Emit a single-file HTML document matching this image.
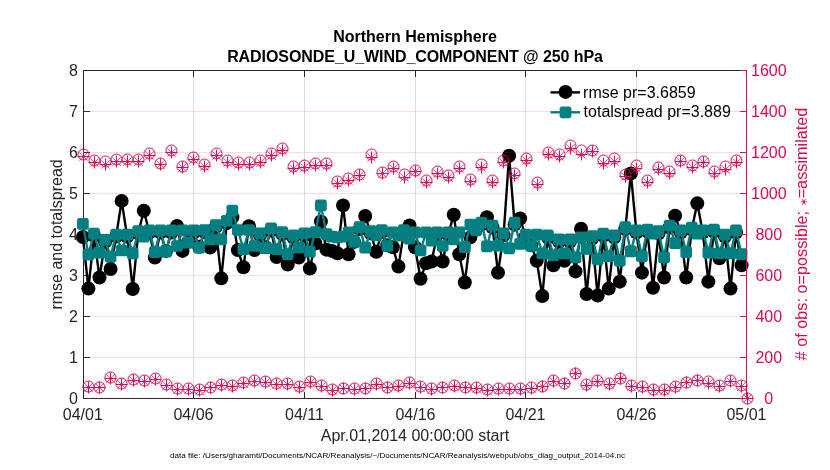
<!DOCTYPE html>
<html><head><meta charset="utf-8"><title>Northern Hemisphere RADIOSONDE_U_WIND_COMPONENT @ 250 hPa</title>
<style>html,body{margin:0;padding:0;background:#fff;}body{width:830px;height:470px;overflow:hidden;}svg{display:block;will-change:transform;}</style>
</head><body>
<svg width="830" height="470" viewBox="0 0 830 470"><rect width="830" height="470" fill="#fff"/><path d="M83.5 70V399M83 70.5H747M83 398.5H747" stroke="#262626" stroke-width="1" fill="none"/><g stroke="#262626" stroke-width="1"><path d="M84 357.5h6"/><path d="M84 316.5h6"/><path d="M84 275.5h6"/><path d="M84 234.5h6"/><path d="M84 193.5h6"/><path d="M84 152.5h6"/><path d="M84 111.5h6"/><path d="M193.5 398V392M193.5 71V77"/><path d="M304.5 398V392M304.5 71V77"/><path d="M415.5 398V392M415.5 71V77"/><path d="M525.5 398V392M525.5 71V77"/><path d="M636.5 398V392M636.5 71V77"/></g><polyline points="82.9,236.96 88.44,288.62 93.97,235.73 99.51,277.55 105.04,241.88 110.58,268.94 116.11,236.55 121.65,200.88 127.18,236.55 132.72,289.03 138.25,233.27 143.79,210.72 149.32,232.45 154.86,257.46 160.39,232.45 165.93,250.9 171.46,232.45 177,225.89 182.53,250.9 188.06,241.88 193.6,232.45 199.13,246.8 204.67,232.04 210.21,247.62 215.74,227.12 221.28,278.37 226.81,223.02 232.34,217.28 237.88,250.08 243.42,267.3 248.95,226.3 254.49,250.08 260.02,235.32 265.56,247.21 271.09,230.4 276.62,257.05 282.16,234.09 287.7,264.43 293.23,237.37 298.76,257.46 304.3,235.32 309.84,268.53 315.37,243.52 320.9,221.38 326.44,249.67 331.98,250.9 337.51,253.36 343.04,205.39 348.58,254.18 354.12,241.88 359.65,229.17 365.19,216.05 370.72,233.27 376.25,251.72 381.79,232.04 387.33,245.16 392.86,247.21 398.39,266.48 403.93,232.04 409.47,225.48 415,247.21 420.53,278.78 426.07,263.2 431.61,261.56 437.14,234.5 442.68,261.56 448.21,234.5 453.75,214.82 459.28,254.18 464.82,282.47 470.35,237.37 475.88,229.58 481.42,224.66 486.96,217.28 492.49,227.53 498.02,272.63 503.56,235.32 509.1,155.78 514.63,224.66 520.16,218.51 525.7,236.55 531.24,245.16 536.77,260.74 542.31,296 547.84,237.37 553.38,265.25 558.91,241.47 564.45,260.74 569.98,241.47 575.51,271.4 581.05,228.76 586.59,293.95 592.12,238.19 597.65,295.59 603.19,235.73 608.73,288.62 614.26,237.37 619.79,281.65 625.33,229.17 630.87,173.41 636.4,232.45 641.93,272.63 647.47,231.63 653,287.8 658.54,233.27 664.08,277.55 669.61,227.53 675.14,215.64 680.68,232.45 686.22,277.55 691.75,229.58 697.28,203.34 702.82,232.45 708.36,281.65 713.89,231.63 719.42,258.28 724.96,236.55 730.5,288.62 736.03,232.45 741.56,265.25" fill="none" stroke="#000" stroke-width="2.4" stroke-linejoin="round"/><g fill="#000"><circle cx="82.9" cy="236.96" r="7"/><circle cx="88.44" cy="288.62" r="7"/><circle cx="93.97" cy="235.73" r="7"/><circle cx="99.51" cy="277.55" r="7"/><circle cx="105.04" cy="241.88" r="7"/><circle cx="110.58" cy="268.94" r="7"/><circle cx="116.11" cy="236.55" r="7"/><circle cx="121.65" cy="200.88" r="7"/><circle cx="127.18" cy="236.55" r="7"/><circle cx="132.72" cy="289.03" r="7"/><circle cx="138.25" cy="233.27" r="7"/><circle cx="143.79" cy="210.72" r="7"/><circle cx="149.32" cy="232.45" r="7"/><circle cx="154.86" cy="257.46" r="7"/><circle cx="160.39" cy="232.45" r="7"/><circle cx="165.93" cy="250.9" r="7"/><circle cx="171.46" cy="232.45" r="7"/><circle cx="177" cy="225.89" r="7"/><circle cx="182.53" cy="250.9" r="7"/><circle cx="188.06" cy="241.88" r="7"/><circle cx="193.6" cy="232.45" r="7"/><circle cx="199.13" cy="246.8" r="7"/><circle cx="204.67" cy="232.04" r="7"/><circle cx="210.21" cy="247.62" r="7"/><circle cx="215.74" cy="227.12" r="7"/><circle cx="221.28" cy="278.37" r="7"/><circle cx="226.81" cy="223.02" r="7"/><circle cx="232.34" cy="217.28" r="7"/><circle cx="237.88" cy="250.08" r="7"/><circle cx="243.42" cy="267.3" r="7"/><circle cx="248.95" cy="226.3" r="7"/><circle cx="254.49" cy="250.08" r="7"/><circle cx="260.02" cy="235.32" r="7"/><circle cx="265.56" cy="247.21" r="7"/><circle cx="271.09" cy="230.4" r="7"/><circle cx="276.62" cy="257.05" r="7"/><circle cx="282.16" cy="234.09" r="7"/><circle cx="287.7" cy="264.43" r="7"/><circle cx="293.23" cy="237.37" r="7"/><circle cx="298.76" cy="257.46" r="7"/><circle cx="304.3" cy="235.32" r="7"/><circle cx="309.84" cy="268.53" r="7"/><circle cx="315.37" cy="243.52" r="7"/><circle cx="320.9" cy="221.38" r="7"/><circle cx="326.44" cy="249.67" r="7"/><circle cx="331.98" cy="250.9" r="7"/><circle cx="337.51" cy="253.36" r="7"/><circle cx="343.04" cy="205.39" r="7"/><circle cx="348.58" cy="254.18" r="7"/><circle cx="354.12" cy="241.88" r="7"/><circle cx="359.65" cy="229.17" r="7"/><circle cx="365.19" cy="216.05" r="7"/><circle cx="370.72" cy="233.27" r="7"/><circle cx="376.25" cy="251.72" r="7"/><circle cx="381.79" cy="232.04" r="7"/><circle cx="387.33" cy="245.16" r="7"/><circle cx="392.86" cy="247.21" r="7"/><circle cx="398.39" cy="266.48" r="7"/><circle cx="403.93" cy="232.04" r="7"/><circle cx="409.47" cy="225.48" r="7"/><circle cx="415" cy="247.21" r="7"/><circle cx="420.53" cy="278.78" r="7"/><circle cx="426.07" cy="263.2" r="7"/><circle cx="431.61" cy="261.56" r="7"/><circle cx="437.14" cy="234.5" r="7"/><circle cx="442.68" cy="261.56" r="7"/><circle cx="448.21" cy="234.5" r="7"/><circle cx="453.75" cy="214.82" r="7"/><circle cx="459.28" cy="254.18" r="7"/><circle cx="464.82" cy="282.47" r="7"/><circle cx="470.35" cy="237.37" r="7"/><circle cx="475.88" cy="229.58" r="7"/><circle cx="481.42" cy="224.66" r="7"/><circle cx="486.96" cy="217.28" r="7"/><circle cx="492.49" cy="227.53" r="7"/><circle cx="498.02" cy="272.63" r="7"/><circle cx="503.56" cy="235.32" r="7"/><circle cx="509.1" cy="155.78" r="7"/><circle cx="514.63" cy="224.66" r="7"/><circle cx="520.16" cy="218.51" r="7"/><circle cx="525.7" cy="236.55" r="7"/><circle cx="531.24" cy="245.16" r="7"/><circle cx="536.77" cy="260.74" r="7"/><circle cx="542.31" cy="296" r="7"/><circle cx="547.84" cy="237.37" r="7"/><circle cx="553.38" cy="265.25" r="7"/><circle cx="558.91" cy="241.47" r="7"/><circle cx="564.45" cy="260.74" r="7"/><circle cx="569.98" cy="241.47" r="7"/><circle cx="575.51" cy="271.4" r="7"/><circle cx="581.05" cy="228.76" r="7"/><circle cx="586.59" cy="293.95" r="7"/><circle cx="592.12" cy="238.19" r="7"/><circle cx="597.65" cy="295.59" r="7"/><circle cx="603.19" cy="235.73" r="7"/><circle cx="608.73" cy="288.62" r="7"/><circle cx="614.26" cy="237.37" r="7"/><circle cx="619.79" cy="281.65" r="7"/><circle cx="625.33" cy="229.17" r="7"/><circle cx="630.87" cy="173.41" r="7"/><circle cx="636.4" cy="232.45" r="7"/><circle cx="641.93" cy="272.63" r="7"/><circle cx="647.47" cy="231.63" r="7"/><circle cx="653" cy="287.8" r="7"/><circle cx="658.54" cy="233.27" r="7"/><circle cx="664.08" cy="277.55" r="7"/><circle cx="669.61" cy="227.53" r="7"/><circle cx="675.14" cy="215.64" r="7"/><circle cx="680.68" cy="232.45" r="7"/><circle cx="686.22" cy="277.55" r="7"/><circle cx="691.75" cy="229.58" r="7"/><circle cx="697.28" cy="203.34" r="7"/><circle cx="702.82" cy="232.45" r="7"/><circle cx="708.36" cy="281.65" r="7"/><circle cx="713.89" cy="231.63" r="7"/><circle cx="719.42" cy="258.28" r="7"/><circle cx="724.96" cy="236.55" r="7"/><circle cx="730.5" cy="288.62" r="7"/><circle cx="736.03" cy="232.45" r="7"/><circle cx="741.56" cy="265.25" r="7"/></g><polyline points="82.9,223.84 88.44,254.59 93.97,233.68 99.51,252.54 105.04,239.83 110.58,256.64 116.11,234.5 121.65,250.49 127.18,234.5 132.72,253.36 138.25,231.22 143.79,236.55 149.32,230.4 154.86,252.13 160.39,230.4 165.93,251.72 171.46,230.4 177,245.98 182.53,230.4 188.06,242.7 193.6,230.4 199.13,247.62 204.67,229.99 210.21,239.42 215.74,225.07 221.28,239.42 226.81,220.97 232.34,210.72 237.88,229.99 243.42,249.26 248.95,229.99 254.49,245.98 260.02,233.27 265.56,248.03 271.09,228.35 276.62,249.26 282.16,232.04 287.7,254.18 293.23,235.32 298.76,247.62 304.3,233.27 309.84,251.72 315.37,232.04 320.9,205.39 326.44,234.09 331.98,236.55 337.51,237.37 343.04,236.55 348.58,232.45 354.12,241.88 359.65,227.12 365.19,247.62 370.72,231.22 376.25,235.32 381.79,229.99 387.33,245.98 392.86,232.45 398.39,235.73 403.93,229.99 409.47,238.6 415,232.45 420.53,250.49 426.07,232.45 431.61,240.65 437.14,232.45 442.68,245.98 448.21,232.45 453.75,239.42 459.28,232.45 464.82,247.21 470.35,224.66 475.88,230.4 481.42,222.61 486.96,246.39 492.49,225.48 498.02,245.57 503.56,233.27 509.1,248.44 514.63,222.61 520.16,243.93 525.7,234.5 531.24,245.98 536.77,234.5 542.31,253.36 547.84,235.32 553.38,255.41 558.91,239.42 564.45,253.36 569.98,239.42 575.51,257.46 581.05,237.37 586.59,248.85 592.12,236.14 597.65,259.51 603.19,233.68 608.73,256.23 614.26,235.32 619.79,260.74 625.33,227.12 630.87,251.31 636.4,230.4 641.93,256.23 647.47,229.58 653,233.68 658.54,231.22 664.08,257.46 669.61,225.48 675.14,243.11 680.68,230.4 686.22,252.13 691.75,227.53 697.28,233.68 702.82,230.4 708.36,252.54 713.89,229.58 719.42,253.36 724.96,234.5 730.5,253.36 736.03,230.4 741.56,254.18" fill="none" stroke="#008080" stroke-width="2.4" stroke-linejoin="round"/><g fill="#008080"><path d="M78.55 217.99H87.25L88.75 219.49V228.19L87.25 229.69H78.55L77.05 228.19V219.49ZM84.09 248.74H92.78L94.28 250.24V258.94L92.78 260.44H84.09L82.59 258.94V250.24ZM89.62 227.83H98.32L99.82 229.33V238.03L98.32 239.53H89.62L88.12 238.03V229.33ZM95.16 246.69H103.86L105.36 248.19V256.89L103.86 258.39H95.16L93.66 256.89V248.19ZM100.69 233.98H109.39L110.89 235.48V244.18L109.39 245.68H100.69L99.19 244.18V235.48ZM106.23 250.79H114.92L116.42 252.29V260.99L114.92 262.49H106.23L104.73 260.99V252.29ZM111.76 228.65H120.46L121.96 230.15V238.85L120.46 240.35H111.76L110.26 238.85V230.15ZM117.3 244.64H126L127.5 246.14V254.84L126 256.34H117.3L115.8 254.84V246.14ZM122.83 228.65H131.53L133.03 230.15V238.85L131.53 240.35H122.83L121.33 238.85V230.15ZM128.37 247.51H137.06L138.56 249.01V257.71L137.06 259.21H128.37L126.87 257.71V249.01ZM133.9 225.37H142.6L144.1 226.87V235.57L142.6 237.07H133.9L132.4 235.57V226.87ZM139.44 230.7H148.14L149.64 232.2V240.9L148.14 242.4H139.44L137.94 240.9V232.2ZM144.97 224.55H153.67L155.17 226.05V234.75L153.67 236.25H144.97L143.47 234.75V226.05ZM150.51 246.28H159.21L160.71 247.78V256.48L159.21 257.98H150.51L149.01 256.48V247.78ZM156.04 224.55H164.74L166.24 226.05V234.75L164.74 236.25H156.04L154.54 234.75V226.05ZM161.58 245.87H170.28L171.78 247.37V256.07L170.28 257.57H161.58L160.08 256.07V247.37ZM167.11 224.55H175.81L177.31 226.05V234.75L175.81 236.25H167.11L165.61 234.75V226.05ZM172.65 240.13H181.34L182.84 241.63V250.33L181.34 251.83H172.65L171.15 250.33V241.63ZM178.18 224.55H186.88L188.38 226.05V234.75L186.88 236.25H178.18L176.68 234.75V226.05ZM183.72 236.85H192.41L193.91 238.35V247.05L192.41 248.55H183.72L182.22 247.05V238.35ZM189.25 224.55H197.95L199.45 226.05V234.75L197.95 236.25H189.25L187.75 234.75V226.05ZM194.78 241.77H203.48L204.98 243.27V251.97L203.48 253.47H194.78L193.28 251.97V243.27ZM200.32 224.14H209.02L210.52 225.64V234.34L209.02 235.84H200.32L198.82 234.34V225.64ZM205.86 233.57H214.56L216.06 235.07V243.77L214.56 245.27H205.86L204.36 243.77V235.07ZM211.39 219.22H220.09L221.59 220.72V229.42L220.09 230.92H211.39L209.89 229.42V220.72ZM216.93 233.57H225.62L227.12 235.07V243.77L225.62 245.27H216.93L215.43 243.77V235.07ZM222.46 215.12H231.16L232.66 216.62V225.32L231.16 226.82H222.46L220.96 225.32V216.62ZM228 204.87H236.69L238.19 206.37V215.07L236.69 216.57H228L226.5 215.07V206.37ZM233.53 224.14H242.23L243.73 225.64V234.34L242.23 235.84H233.53L232.03 234.34V225.64ZM239.07 243.41H247.77L249.27 244.91V253.61L247.77 255.11H239.07L237.57 253.61V244.91ZM244.6 224.14H253.3L254.8 225.64V234.34L253.3 235.84H244.6L243.1 234.34V225.64ZM250.14 240.13H258.84L260.34 241.63V250.33L258.84 251.83H250.14L248.64 250.33V241.63ZM255.67 227.42H264.37L265.87 228.92V237.62L264.37 239.12H255.67L254.17 237.62V228.92ZM261.2 242.18H269.91L271.41 243.68V252.38L269.91 253.88H261.2L259.7 252.38V243.68ZM266.74 222.5H275.44L276.94 224V232.7L275.44 234.2H266.74L265.24 232.7V224ZM272.27 243.41H280.98L282.48 244.91V253.61L280.98 255.11H272.27L270.77 253.61V244.91ZM277.81 226.19H286.51L288.01 227.69V236.39L286.51 237.89H277.81L276.31 236.39V227.69ZM283.35 248.33H292.05L293.55 249.83V258.53L292.05 260.03H283.35L281.85 258.53V249.83ZM288.88 229.47H297.58L299.08 230.97V239.67L297.58 241.17H288.88L287.38 239.67V230.97ZM294.41 241.77H303.12L304.62 243.27V251.97L303.12 253.47H294.41L292.91 251.97V243.27ZM299.95 227.42H308.65L310.15 228.92V237.62L308.65 239.12H299.95L298.45 237.62V228.92ZM305.49 245.87H314.19L315.69 247.37V256.07L314.19 257.57H305.49L303.99 256.07V247.37ZM311.02 226.19H319.72L321.22 227.69V236.39L319.72 237.89H311.02L309.52 236.39V227.69ZM316.55 199.54H325.25L326.75 201.04V209.74L325.25 211.24H316.55L315.05 209.74V201.04ZM322.09 228.24H330.79L332.29 229.74V238.44L330.79 239.94H322.09L320.59 238.44V229.74ZM327.62 230.7H336.33L337.83 232.2V240.9L336.33 242.4H327.62L326.12 240.9V232.2ZM333.16 231.52H341.86L343.36 233.02V241.72L341.86 243.22H333.16L331.66 241.72V233.02ZM338.69 230.7H347.39L348.89 232.2V240.9L347.39 242.4H338.69L337.19 240.9V232.2ZM344.23 226.6H352.93L354.43 228.1V236.8L352.93 238.3H344.23L342.73 236.8V228.1ZM349.76 236.03H358.47L359.97 237.53V246.23L358.47 247.73H349.76L348.26 246.23V237.53ZM355.3 221.27H364L365.5 222.77V231.47L364 232.97H355.3L353.8 231.47V222.77ZM360.84 241.77H369.54L371.04 243.27V251.97L369.54 253.47H360.84L359.34 251.97V243.27ZM366.37 225.37H375.07L376.57 226.87V235.57L375.07 237.07H366.37L364.87 235.57V226.87ZM371.9 229.47H380.61L382.11 230.97V239.67L380.61 241.17H371.9L370.4 239.67V230.97ZM377.44 224.14H386.14L387.64 225.64V234.34L386.14 235.84H377.44L375.94 234.34V225.64ZM382.98 240.13H391.68L393.18 241.63V250.33L391.68 251.83H382.98L381.48 250.33V241.63ZM388.51 226.6H397.21L398.71 228.1V236.8L397.21 238.3H388.51L387.01 236.8V228.1ZM394.04 229.88H402.75L404.25 231.38V240.08L402.75 241.58H394.04L392.54 240.08V231.38ZM399.58 224.14H408.28L409.78 225.64V234.34L408.28 235.84H399.58L398.08 234.34V225.64ZM405.12 232.75H413.82L415.32 234.25V242.95L413.82 244.45H405.12L403.62 242.95V234.25ZM410.65 226.6H419.35L420.85 228.1V236.8L419.35 238.3H410.65L409.15 236.8V228.1ZM416.18 244.64H424.88L426.38 246.14V254.84L424.88 256.34H416.18L414.68 254.84V246.14ZM421.72 226.6H430.42L431.92 228.1V236.8L430.42 238.3H421.72L420.22 236.8V228.1ZM427.25 234.8H435.96L437.46 236.3V245L435.96 246.5H427.25L425.75 245V236.3ZM432.79 226.6H441.49L442.99 228.1V236.8L441.49 238.3H432.79L431.29 236.8V228.1ZM438.33 240.13H447.03L448.53 241.63V250.33L447.03 251.83H438.33L436.83 250.33V241.63ZM443.86 226.6H452.56L454.06 228.1V236.8L452.56 238.3H443.86L442.36 236.8V228.1ZM449.39 233.57H458.1L459.6 235.07V243.77L458.1 245.27H449.39L447.89 243.77V235.07ZM454.93 226.6H463.63L465.13 228.1V236.8L463.63 238.3H454.93L453.43 236.8V228.1ZM460.47 241.36H469.17L470.67 242.86V251.56L469.17 253.06H460.47L458.97 251.56V242.86ZM466 218.81H474.7L476.2 220.31V229.01L474.7 230.51H466L464.5 229.01V220.31ZM471.53 224.55H480.24L481.74 226.05V234.75L480.24 236.25H471.53L470.03 234.75V226.05ZM477.07 216.76H485.77L487.27 218.26V226.96L485.77 228.46H477.07L475.57 226.96V218.26ZM482.61 240.54H491.31L492.81 242.04V250.74L491.31 252.24H482.61L481.11 250.74V242.04ZM488.14 219.63H496.84L498.34 221.13V229.83L496.84 231.33H488.14L486.64 229.83V221.13ZM493.67 239.72H502.38L503.88 241.22V249.92L502.38 251.42H493.67L492.17 249.92V241.22ZM499.21 227.42H507.91L509.41 228.92V237.62L507.91 239.12H499.21L497.71 237.62V228.92ZM504.75 242.59H513.45L514.95 244.09V252.79L513.45 254.29H504.75L503.25 252.79V244.09ZM510.28 216.76H518.98L520.48 218.26V226.96L518.98 228.46H510.28L508.78 226.96V218.26ZM515.81 238.08H524.51L526.01 239.58V248.28L524.51 249.78H515.81L514.31 248.28V239.58ZM521.35 228.65H530.05L531.55 230.15V238.85L530.05 240.35H521.35L519.85 238.85V230.15ZM526.88 240.13H535.59L537.09 241.63V250.33L535.59 251.83H526.88L525.38 250.33V241.63ZM532.42 228.65H541.12L542.62 230.15V238.85L541.12 240.35H532.42L530.92 238.85V230.15ZM537.96 247.51H546.66L548.16 249.01V257.71L546.66 259.21H537.96L536.46 257.71V249.01ZM543.49 229.47H552.19L553.69 230.97V239.67L552.19 241.17H543.49L541.99 239.67V230.97ZM549.02 249.56H557.73L559.23 251.06V259.76L557.73 261.26H549.02L547.52 259.76V251.06ZM554.56 233.57H563.26L564.76 235.07V243.77L563.26 245.27H554.56L553.06 243.77V235.07ZM560.1 247.51H568.8L570.3 249.01V257.71L568.8 259.21H560.1L558.6 257.71V249.01ZM565.63 233.57H574.33L575.83 235.07V243.77L574.33 245.27H565.63L564.13 243.77V235.07ZM571.16 251.61H579.87L581.37 253.11V261.81L579.87 263.31H571.16L569.66 261.81V253.11ZM576.7 231.52H585.4L586.9 233.02V241.72L585.4 243.22H576.7L575.2 241.72V233.02ZM582.24 243H590.94L592.44 244.5V253.2L590.94 254.7H582.24L580.74 253.2V244.5ZM587.77 230.29H596.47L597.97 231.79V240.49L596.47 241.99H587.77L586.27 240.49V231.79ZM593.3 253.66H602L603.5 255.16V263.86L602 265.36H593.3L591.8 263.86V255.16ZM598.84 227.83H607.54L609.04 229.33V238.03L607.54 239.53H598.84L597.34 238.03V229.33ZM604.38 250.38H613.08L614.58 251.88V260.58L613.08 262.08H604.38L602.88 260.58V251.88ZM609.91 229.47H618.61L620.11 230.97V239.67L618.61 241.17H609.91L608.41 239.67V230.97ZM615.44 254.89H624.14L625.64 256.39V265.09L624.14 266.59H615.44L613.94 265.09V256.39ZM620.98 221.27H629.68L631.18 222.77V231.47L629.68 232.97H620.98L619.48 231.47V222.77ZM626.51 245.46H635.22L636.72 246.96V255.66L635.22 257.16H626.51L625.01 255.66V246.96ZM632.05 224.55H640.75L642.25 226.05V234.75L640.75 236.25H632.05L630.55 234.75V226.05ZM637.58 250.38H646.28L647.78 251.88V260.58L646.28 262.08H637.58L636.08 260.58V251.88ZM643.12 223.73H651.82L653.32 225.23V233.93L651.82 235.43H643.12L641.62 233.93V225.23ZM648.65 227.83H657.36L658.86 229.33V238.03L657.36 239.53H648.65L647.15 238.03V229.33ZM654.19 225.37H662.89L664.39 226.87V235.57L662.89 237.07H654.19L652.69 235.57V226.87ZM659.73 251.61H668.43L669.93 253.11V261.81L668.43 263.31H659.73L658.23 261.81V253.11ZM665.26 219.63H673.96L675.46 221.13V229.83L673.96 231.33H665.26L663.76 229.83V221.13ZM670.79 237.26H679.5L681 238.76V247.46L679.5 248.96H670.79L669.29 247.46V238.76ZM676.33 224.55H685.03L686.53 226.05V234.75L685.03 236.25H676.33L674.83 234.75V226.05ZM681.87 246.28H690.57L692.07 247.78V256.48L690.57 257.98H681.87L680.37 256.48V247.78ZM687.4 221.68H696.1L697.6 223.18V231.88L696.1 233.38H687.4L685.9 231.88V223.18ZM692.93 227.83H701.63L703.13 229.33V238.03L701.63 239.53H692.93L691.43 238.03V229.33ZM698.47 224.55H707.17L708.67 226.05V234.75L707.17 236.25H698.47L696.97 234.75V226.05ZM704 246.69H712.71L714.21 248.19V256.89L712.71 258.39H704L702.5 256.89V248.19ZM709.54 223.73H718.24L719.74 225.23V233.93L718.24 235.43H709.54L708.04 233.93V225.23ZM715.07 247.51H723.77L725.27 249.01V257.71L723.77 259.21H715.07L713.57 257.71V249.01ZM720.61 228.65H729.31L730.81 230.15V238.85L729.31 240.35H720.61L719.11 238.85V230.15ZM726.14 247.51H734.85L736.35 249.01V257.71L734.85 259.21H726.14L724.64 257.71V249.01ZM731.68 224.55H740.38L741.88 226.05V234.75L740.38 236.25H731.68L730.18 234.75V226.05ZM737.21 248.33H745.91L747.41 249.83V258.53L745.91 260.03H737.21L735.71 258.53V249.83Z"/></g><g stroke="#262626" stroke-opacity="0.15" stroke-width="1"><path d="M83.5 71V398"/><path d="M193.5 71V398"/><path d="M304.5 71V398"/><path d="M415.5 71V398"/><path d="M525.5 71V398"/><path d="M636.5 71V398"/></g><g stroke="#d70a53" stroke-opacity="0.15" stroke-width="1"><path d="M84 357.5H746"/><path d="M84 316.5H746"/><path d="M84 275.5H746"/><path d="M84 234.5H746"/><path d="M84 193.5H746"/><path d="M84 152.5H746"/><path d="M84 111.5H746"/><path d="M83 398.5H746"/><path d="M84 398.5h6"/></g><g fill="none" stroke="#d70a53" stroke-width="1.0"><circle cx="83.5" cy="154.5" r="5.5"/><circle cx="88.5" cy="386.5" r="5.5"/><circle cx="94.5" cy="160.5" r="5.5"/><circle cx="99.5" cy="387.5" r="5.5"/><circle cx="105.5" cy="161.5" r="5.5"/><circle cx="110.5" cy="377.5" r="5.5"/><circle cx="116.5" cy="159.5" r="5.5"/><circle cx="121.5" cy="383.5" r="5.5"/><circle cx="127.5" cy="159.5" r="5.5"/><circle cx="133.5" cy="379.5" r="5.5"/><circle cx="138.5" cy="159.5" r="5.5"/><circle cx="144.5" cy="380.5" r="5.5"/><circle cx="149.5" cy="153.5" r="5.5"/><circle cx="155.5" cy="378.5" r="5.5"/><circle cx="160.5" cy="163.5" r="5.5"/><circle cx="166.5" cy="384.5" r="5.5"/><circle cx="171.5" cy="150.5" r="5.5"/><circle cx="177.5" cy="388.5" r="5.5"/><circle cx="182.5" cy="166.5" r="5.5"/><circle cx="188.5" cy="388.5" r="5.5"/><circle cx="193.5" cy="157.5" r="5.5"/><circle cx="199.5" cy="389.5" r="5.5"/><circle cx="204.5" cy="164.5" r="5.5"/><circle cx="210.5" cy="387.5" r="5.5"/><circle cx="216.5" cy="153.5" r="5.5"/><circle cx="221.5" cy="384.5" r="5.5"/><circle cx="227.5" cy="160.5" r="5.5"/><circle cx="232.5" cy="385.5" r="5.5"/><circle cx="238.5" cy="162.5" r="5.5"/><circle cx="243.5" cy="382.5" r="5.5"/><circle cx="249.5" cy="162.5" r="5.5"/><circle cx="254.5" cy="380.5" r="5.5"/><circle cx="260.5" cy="160.5" r="5.5"/><circle cx="265.5" cy="381.5" r="5.5"/><circle cx="271.5" cy="153.5" r="5.5"/><circle cx="276.5" cy="383.5" r="5.5"/><circle cx="282.5" cy="148.5" r="5.5"/><circle cx="287.5" cy="383.5" r="5.5"/><circle cx="293.5" cy="166.5" r="5.5"/><circle cx="299.5" cy="386.5" r="5.5"/><circle cx="304.5" cy="165.5" r="5.5"/><circle cx="310.5" cy="381.5" r="5.5"/><circle cx="315.5" cy="163.5" r="5.5"/><circle cx="321.5" cy="385.5" r="5.5"/><circle cx="326.5" cy="163.5" r="5.5"/><circle cx="332.5" cy="389.5" r="5.5"/><circle cx="337.5" cy="181.5" r="5.5"/><circle cx="343.5" cy="388.5" r="5.5"/><circle cx="348.5" cy="178.5" r="5.5"/><circle cx="354.5" cy="388.5" r="5.5"/><circle cx="359.5" cy="174.5" r="5.5"/><circle cx="365.5" cy="388.5" r="5.5"/><circle cx="371.5" cy="154.5" r="5.5"/><circle cx="376.5" cy="383.5" r="5.5"/><circle cx="382.5" cy="172.5" r="5.5"/><circle cx="387.5" cy="387.5" r="5.5"/><circle cx="393.5" cy="166.5" r="5.5"/><circle cx="398.5" cy="385.5" r="5.5"/><circle cx="404.5" cy="174.5" r="5.5"/><circle cx="409.5" cy="382.5" r="5.5"/><circle cx="415.5" cy="170.5" r="5.5"/><circle cx="420.5" cy="386.5" r="5.5"/><circle cx="426.5" cy="180.5" r="5.5"/><circle cx="431.5" cy="388.5" r="5.5"/><circle cx="437.5" cy="171.5" r="5.5"/><circle cx="442.5" cy="387.5" r="5.5"/><circle cx="448.5" cy="175.5" r="5.5"/><circle cx="454.5" cy="385.5" r="5.5"/><circle cx="459.5" cy="166.5" r="5.5"/><circle cx="465.5" cy="387.5" r="5.5"/><circle cx="470.5" cy="179.5" r="5.5"/><circle cx="476.5" cy="387.5" r="5.5"/><circle cx="481.5" cy="164.5" r="5.5"/><circle cx="487.5" cy="389.5" r="5.5"/><circle cx="492.5" cy="180.5" r="5.5"/><circle cx="498.5" cy="388.5" r="5.5"/><circle cx="503.5" cy="160.5" r="5.5"/><circle cx="509.5" cy="388.5" r="5.5"/><circle cx="514.5" cy="173.5" r="5.5"/><circle cx="520.5" cy="388.5" r="5.5"/><circle cx="526.5" cy="158.5" r="5.5"/><circle cx="531.5" cy="387.5" r="5.5"/><circle cx="537.5" cy="182.5" r="5.5"/><circle cx="542.5" cy="386.5" r="5.5"/><circle cx="548.5" cy="152.5" r="5.5"/><circle cx="553.5" cy="380.5" r="5.5"/><circle cx="559.5" cy="154.5" r="5.5"/><circle cx="564.5" cy="383.5" r="5.5"/><circle cx="570.5" cy="145.5" r="5.5"/><circle cx="575.5" cy="373.5" r="5.5"/><circle cx="581.5" cy="150.5" r="5.5"/><circle cx="586.5" cy="384.5" r="5.5"/><circle cx="592.5" cy="150.5" r="5.5"/><circle cx="597.5" cy="380.5" r="5.5"/><circle cx="603.5" cy="160.5" r="5.5"/><circle cx="609.5" cy="383.5" r="5.5"/><circle cx="614.5" cy="158.5" r="5.5"/><circle cx="620.5" cy="378.5" r="5.5"/><circle cx="625.5" cy="174.5" r="5.5"/><circle cx="631.5" cy="385.5" r="5.5"/><circle cx="636.5" cy="165.5" r="5.5"/><circle cx="642.5" cy="386.5" r="5.5"/><circle cx="647.5" cy="180.5" r="5.5"/><circle cx="653.5" cy="389.5" r="5.5"/><circle cx="658.5" cy="167.5" r="5.5"/><circle cx="664.5" cy="389.5" r="5.5"/><circle cx="669.5" cy="171.5" r="5.5"/><circle cx="675.5" cy="386.5" r="5.5"/><circle cx="680.5" cy="160.5" r="5.5"/><circle cx="686.5" cy="382.5" r="5.5"/><circle cx="692.5" cy="165.5" r="5.5"/><circle cx="697.5" cy="380.5" r="5.5"/><circle cx="703.5" cy="161.5" r="5.5"/><circle cx="708.5" cy="381.5" r="5.5"/><circle cx="714.5" cy="171.5" r="5.5"/><circle cx="719.5" cy="385.5" r="5.5"/><circle cx="725.5" cy="166.5" r="5.5"/><circle cx="730.5" cy="380.5" r="5.5"/><circle cx="736.5" cy="160.5" r="5.5"/><circle cx="741.5" cy="385.5" r="5.5"/><circle cx="747.5" cy="398.5" r="5.5"/><path d="M77.5 156.5h12M83.5 150.5v12M82.5 387.5h12M88.5 381.5v12M88.5 162.5h12M94.5 156.5v12M93.5 387.5h12M99.5 381.5v12M99.5 164.5h12M105.5 158.5v12M104.5 378.5h12M110.5 372.5v12M110.5 161.5h12M116.5 155.5v12M115.5 384.5h12M121.5 378.5v12M121.5 161.5h12M127.5 155.5v12M127.5 380.5h12M133.5 374.5v12M132.5 161.5h12M138.5 155.5v12M138.5 381.5h12M144.5 375.5v12M143.5 155.5h12M149.5 149.5v12M149.5 379.5h12M155.5 373.5v12M154.5 164.5h12M160.5 158.5v12M160.5 385.5h12M166.5 379.5v12M165.5 152.5h12M171.5 146.5v12M171.5 389.5h12M177.5 383.5v12M176.5 167.5h12M182.5 161.5v12M182.5 389.5h12M188.5 383.5v12M187.5 159.5h12M193.5 153.5v12M193.5 390.5h12M199.5 384.5v12M198.5 166.5h12M204.5 160.5v12M204.5 387.5h12M210.5 381.5v12M210.5 155.5h12M216.5 149.5v12M215.5 385.5h12M221.5 379.5v12M221.5 162.5h12M227.5 156.5v12M226.5 386.5h12M232.5 380.5v12M232.5 164.5h12M238.5 158.5v12M237.5 383.5h12M243.5 377.5v12M243.5 164.5h12M249.5 158.5v12M248.5 381.5h12M254.5 375.5v12M254.5 162.5h12M260.5 156.5v12M259.5 382.5h12M265.5 376.5v12M265.5 155.5h12M271.5 149.5v12M270.5 384.5h12M276.5 378.5v12M276.5 150.5h12M282.5 144.5v12M281.5 384.5h12M287.5 378.5v12M287.5 168.5h12M293.5 162.5v12M293.5 387.5h12M299.5 381.5v12M298.5 167.5h12M304.5 161.5v12M304.5 382.5h12M310.5 376.5v12M309.5 165.5h12M315.5 159.5v12M315.5 386.5h12M321.5 380.5v12M320.5 165.5h12M326.5 159.5v12M326.5 390.5h12M332.5 384.5v12M331.5 183.5h12M337.5 177.5v12M337.5 388.5h12M343.5 382.5v12M342.5 180.5h12M348.5 174.5v12M348.5 389.5h12M354.5 383.5v12M353.5 175.5h12M359.5 169.5v12M359.5 388.5h12M365.5 382.5v12M365.5 157.5h12M371.5 151.5v12M370.5 384.5h12M376.5 378.5v12M376.5 173.5h12M382.5 167.5v12M381.5 387.5h12M387.5 381.5v12M387.5 168.5h12M393.5 162.5v12M392.5 386.5h12M398.5 380.5v12M398.5 177.5h12M404.5 171.5v12M403.5 383.5h12M409.5 377.5v12M409.5 171.5h12M415.5 165.5v12M414.5 387.5h12M420.5 381.5v12M420.5 182.5h12M426.5 176.5v12M425.5 389.5h12M431.5 383.5v12M431.5 173.5h12M437.5 167.5v12M436.5 387.5h12M442.5 381.5v12M442.5 177.5h12M448.5 171.5v12M448.5 386.5h12M454.5 380.5v12M453.5 168.5h12M459.5 162.5v12M459.5 387.5h12M465.5 381.5v12M464.5 181.5h12M470.5 175.5v12M470.5 388.5h12M476.5 382.5v12M475.5 167.5h12M481.5 161.5v12M481.5 390.5h12M487.5 384.5v12M486.5 182.5h12M492.5 176.5v12M492.5 389.5h12M498.5 383.5v12M497.5 162.5h12M503.5 156.5v12M503.5 389.5h12M509.5 383.5v12M508.5 175.5h12M514.5 169.5v12M514.5 389.5h12M520.5 383.5v12M520.5 160.5h12M526.5 154.5v12M525.5 388.5h12M531.5 382.5v12M531.5 184.5h12M537.5 178.5v12M536.5 386.5h12M542.5 380.5v12M542.5 154.5h12M548.5 148.5v12M547.5 381.5h12M553.5 375.5v12M553.5 156.5h12M559.5 150.5v12M558.5 383.5h12M564.5 377.5v12M564.5 148.5h12M570.5 142.5v12M569.5 373.5h12M575.5 367.5v12M575.5 154.5h12M581.5 148.5v12M580.5 385.5h12M586.5 379.5v12M586.5 151.5h12M592.5 145.5v12M591.5 381.5h12M597.5 375.5v12M597.5 163.5h12M603.5 157.5v12M603.5 384.5h12M609.5 378.5v12M608.5 161.5h12M614.5 155.5v12M614.5 378.5h12M620.5 372.5v12M619.5 176.5h12M625.5 170.5v12M625.5 386.5h12M631.5 380.5v12M630.5 168.5h12M636.5 162.5v12M636.5 387.5h12M642.5 381.5v12M641.5 182.5h12M647.5 176.5v12M647.5 390.5h12M653.5 384.5v12M652.5 169.5h12M658.5 163.5v12M658.5 390.5h12M664.5 384.5v12M663.5 173.5h12M669.5 167.5v12M669.5 387.5h12M675.5 381.5v12M674.5 161.5h12M680.5 155.5v12M680.5 382.5h12M686.5 376.5v12M686.5 167.5h12M692.5 161.5v12M691.5 380.5h12M697.5 374.5v12M697.5 162.5h12M703.5 156.5v12M702.5 383.5h12M708.5 377.5v12M708.5 173.5h12M714.5 167.5v12M713.5 386.5h12M719.5 380.5v12M719.5 169.5h12M725.5 163.5v12M724.5 381.5h12M730.5 375.5v12M730.5 162.5h12M736.5 156.5v12M735.5 386.5h12M741.5 380.5v12M741.5 398.5h12M747.5 392.5v12"/><path d="M79.25 152.25l8.5 8.5M79.25 160.75l8.5 -8.5M84.25 383.25l8.5 8.5M84.25 391.75l8.5 -8.5M90.25 158.25l8.5 8.5M90.25 166.75l8.5 -8.5M95.25 383.25l8.5 8.5M95.25 391.75l8.5 -8.5M101.25 160.25l8.5 8.5M101.25 168.75l8.5 -8.5M106.25 374.25l8.5 8.5M106.25 382.75l8.5 -8.5M112.25 157.25l8.5 8.5M112.25 165.75l8.5 -8.5M117.25 380.25l8.5 8.5M117.25 388.75l8.5 -8.5M123.25 157.25l8.5 8.5M123.25 165.75l8.5 -8.5M129.25 376.25l8.5 8.5M129.25 384.75l8.5 -8.5M134.25 157.25l8.5 8.5M134.25 165.75l8.5 -8.5M140.25 377.25l8.5 8.5M140.25 385.75l8.5 -8.5M145.25 151.25l8.5 8.5M145.25 159.75l8.5 -8.5M151.25 375.25l8.5 8.5M151.25 383.75l8.5 -8.5M156.25 160.25l8.5 8.5M156.25 168.75l8.5 -8.5M162.25 381.25l8.5 8.5M162.25 389.75l8.5 -8.5M167.25 148.25l8.5 8.5M167.25 156.75l8.5 -8.5M173.25 385.25l8.5 8.5M173.25 393.75l8.5 -8.5M178.25 163.25l8.5 8.5M178.25 171.75l8.5 -8.5M184.25 385.25l8.5 8.5M184.25 393.75l8.5 -8.5M189.25 155.25l8.5 8.5M189.25 163.75l8.5 -8.5M195.25 386.25l8.5 8.5M195.25 394.75l8.5 -8.5M200.25 162.25l8.5 8.5M200.25 170.75l8.5 -8.5M206.25 383.25l8.5 8.5M206.25 391.75l8.5 -8.5M212.25 151.25l8.5 8.5M212.25 159.75l8.5 -8.5M217.25 381.25l8.5 8.5M217.25 389.75l8.5 -8.5M223.25 158.25l8.5 8.5M223.25 166.75l8.5 -8.5M228.25 382.25l8.5 8.5M228.25 390.75l8.5 -8.5M234.25 160.25l8.5 8.5M234.25 168.75l8.5 -8.5M239.25 379.25l8.5 8.5M239.25 387.75l8.5 -8.5M245.25 160.25l8.5 8.5M245.25 168.75l8.5 -8.5M250.25 377.25l8.5 8.5M250.25 385.75l8.5 -8.5M256.25 158.25l8.5 8.5M256.25 166.75l8.5 -8.5M261.25 378.25l8.5 8.5M261.25 386.75l8.5 -8.5M267.25 151.25l8.5 8.5M267.25 159.75l8.5 -8.5M272.25 380.25l8.5 8.5M272.25 388.75l8.5 -8.5M278.25 146.25l8.5 8.5M278.25 154.75l8.5 -8.5M283.25 380.25l8.5 8.5M283.25 388.75l8.5 -8.5M289.25 164.25l8.5 8.5M289.25 172.75l8.5 -8.5M295.25 383.25l8.5 8.5M295.25 391.75l8.5 -8.5M300.25 163.25l8.5 8.5M300.25 171.75l8.5 -8.5M306.25 378.25l8.5 8.5M306.25 386.75l8.5 -8.5M311.25 161.25l8.5 8.5M311.25 169.75l8.5 -8.5M317.25 382.25l8.5 8.5M317.25 390.75l8.5 -8.5M322.25 161.25l8.5 8.5M322.25 169.75l8.5 -8.5M328.25 386.25l8.5 8.5M328.25 394.75l8.5 -8.5M333.25 179.25l8.5 8.5M333.25 187.75l8.5 -8.5M339.25 384.25l8.5 8.5M339.25 392.75l8.5 -8.5M344.25 176.25l8.5 8.5M344.25 184.75l8.5 -8.5M350.25 385.25l8.5 8.5M350.25 393.75l8.5 -8.5M355.25 171.25l8.5 8.5M355.25 179.75l8.5 -8.5M361.25 384.25l8.5 8.5M361.25 392.75l8.5 -8.5M367.25 153.25l8.5 8.5M367.25 161.75l8.5 -8.5M372.25 380.25l8.5 8.5M372.25 388.75l8.5 -8.5M378.25 169.25l8.5 8.5M378.25 177.75l8.5 -8.5M383.25 383.25l8.5 8.5M383.25 391.75l8.5 -8.5M389.25 164.25l8.5 8.5M389.25 172.75l8.5 -8.5M394.25 382.25l8.5 8.5M394.25 390.75l8.5 -8.5M400.25 173.25l8.5 8.5M400.25 181.75l8.5 -8.5M405.25 379.25l8.5 8.5M405.25 387.75l8.5 -8.5M411.25 167.25l8.5 8.5M411.25 175.75l8.5 -8.5M416.25 383.25l8.5 8.5M416.25 391.75l8.5 -8.5M422.25 178.25l8.5 8.5M422.25 186.75l8.5 -8.5M427.25 385.25l8.5 8.5M427.25 393.75l8.5 -8.5M433.25 169.25l8.5 8.5M433.25 177.75l8.5 -8.5M438.25 383.25l8.5 8.5M438.25 391.75l8.5 -8.5M444.25 173.25l8.5 8.5M444.25 181.75l8.5 -8.5M450.25 382.25l8.5 8.5M450.25 390.75l8.5 -8.5M455.25 164.25l8.5 8.5M455.25 172.75l8.5 -8.5M461.25 383.25l8.5 8.5M461.25 391.75l8.5 -8.5M466.25 177.25l8.5 8.5M466.25 185.75l8.5 -8.5M472.25 384.25l8.5 8.5M472.25 392.75l8.5 -8.5M477.25 163.25l8.5 8.5M477.25 171.75l8.5 -8.5M483.25 386.25l8.5 8.5M483.25 394.75l8.5 -8.5M488.25 178.25l8.5 8.5M488.25 186.75l8.5 -8.5M494.25 385.25l8.5 8.5M494.25 393.75l8.5 -8.5M499.25 158.25l8.5 8.5M499.25 166.75l8.5 -8.5M505.25 385.25l8.5 8.5M505.25 393.75l8.5 -8.5M510.25 171.25l8.5 8.5M510.25 179.75l8.5 -8.5M516.25 385.25l8.5 8.5M516.25 393.75l8.5 -8.5M522.25 156.25l8.5 8.5M522.25 164.75l8.5 -8.5M527.25 384.25l8.5 8.5M527.25 392.75l8.5 -8.5M533.25 180.25l8.5 8.5M533.25 188.75l8.5 -8.5M538.25 382.25l8.5 8.5M538.25 390.75l8.5 -8.5M544.25 150.25l8.5 8.5M544.25 158.75l8.5 -8.5M549.25 377.25l8.5 8.5M549.25 385.75l8.5 -8.5M555.25 152.25l8.5 8.5M555.25 160.75l8.5 -8.5M560.25 379.25l8.5 8.5M560.25 387.75l8.5 -8.5M566.25 144.25l8.5 8.5M566.25 152.75l8.5 -8.5M571.25 369.25l8.5 8.5M571.25 377.75l8.5 -8.5M577.25 150.25l8.5 8.5M577.25 158.75l8.5 -8.5M582.25 381.25l8.5 8.5M582.25 389.75l8.5 -8.5M588.25 147.25l8.5 8.5M588.25 155.75l8.5 -8.5M593.25 377.25l8.5 8.5M593.25 385.75l8.5 -8.5M599.25 159.25l8.5 8.5M599.25 167.75l8.5 -8.5M605.25 380.25l8.5 8.5M605.25 388.75l8.5 -8.5M610.25 157.25l8.5 8.5M610.25 165.75l8.5 -8.5M616.25 374.25l8.5 8.5M616.25 382.75l8.5 -8.5M621.25 172.25l8.5 8.5M621.25 180.75l8.5 -8.5M627.25 382.25l8.5 8.5M627.25 390.75l8.5 -8.5M632.25 164.25l8.5 8.5M632.25 172.75l8.5 -8.5M638.25 383.25l8.5 8.5M638.25 391.75l8.5 -8.5M643.25 178.25l8.5 8.5M643.25 186.75l8.5 -8.5M649.25 386.25l8.5 8.5M649.25 394.75l8.5 -8.5M654.25 165.25l8.5 8.5M654.25 173.75l8.5 -8.5M660.25 386.25l8.5 8.5M660.25 394.75l8.5 -8.5M665.25 169.25l8.5 8.5M665.25 177.75l8.5 -8.5M671.25 383.25l8.5 8.5M671.25 391.75l8.5 -8.5M676.25 157.25l8.5 8.5M676.25 165.75l8.5 -8.5M682.25 378.25l8.5 8.5M682.25 386.75l8.5 -8.5M688.25 163.25l8.5 8.5M688.25 171.75l8.5 -8.5M693.25 376.25l8.5 8.5M693.25 384.75l8.5 -8.5M699.25 158.25l8.5 8.5M699.25 166.75l8.5 -8.5M704.25 379.25l8.5 8.5M704.25 387.75l8.5 -8.5M710.25 169.25l8.5 8.5M710.25 177.75l8.5 -8.5M715.25 382.25l8.5 8.5M715.25 390.75l8.5 -8.5M721.25 165.25l8.5 8.5M721.25 173.75l8.5 -8.5M726.25 377.25l8.5 8.5M726.25 385.75l8.5 -8.5M732.25 158.25l8.5 8.5M732.25 166.75l8.5 -8.5M737.25 382.25l8.5 8.5M737.25 390.75l8.5 -8.5M743.25 394.25l8.5 8.5M743.25 402.75l8.5 -8.5" stroke-opacity="0.65"/></g><path d="M746.5 70V399" stroke="#d70a53" stroke-width="1" fill="none"/><g stroke="#d70a53" stroke-width="1"><path d="M746 398.5h-6"/><path d="M746 357.5h-6"/><path d="M746 316.5h-6"/><path d="M746 275.5h-6"/><path d="M746 234.5h-6"/><path d="M746 193.5h-6"/><path d="M746 152.5h-6"/><path d="M746 111.5h-6"/><path d="M746 70.5h-6"/></g><g font-family="Liberation Sans, Arial, Helvetica, sans-serif" font-size="16" fill="#262626" text-anchor="end"><text x="78" y="404.25">0</text><text x="78" y="363.25">1</text><text x="78" y="322.25">2</text><text x="78" y="281.25">3</text><text x="78" y="240.25">4</text><text x="78" y="199.25">5</text><text x="78" y="158.25">6</text><text x="78" y="117.25">7</text><text x="78" y="76.25">8</text></g><g font-family="Liberation Sans, Arial, Helvetica, sans-serif" font-size="16" fill="#d70a53" text-anchor="middle"><text x="768.8" y="404.25">0</text><text x="768.8" y="363.25">200</text><text x="768.8" y="322.25">400</text><text x="768.8" y="281.25">600</text><text x="768.8" y="240.25">800</text><text x="768.8" y="199.25">1000</text><text x="768.8" y="158.25">1200</text><text x="768.8" y="117.25">1400</text><text x="768.8" y="76.25">1600</text></g><g font-family="Liberation Sans, Arial, Helvetica, sans-serif" font-size="16" fill="#262626" text-anchor="middle"><text x="82.8" y="420">04/01</text><text x="193.5" y="420">04/06</text><text x="304.5" y="420">04/11</text><text x="415.5" y="420">04/16</text><text x="525.5" y="420">04/21</text><text x="636.5" y="420">04/26</text><text x="746.5" y="420">05/01</text></g><text font-family="Liberation Sans, Arial, Helvetica, sans-serif" font-size="16" fill="#262626" text-anchor="middle" x="415" y="440.5">Apr.01,2014 00:00:00 start</text><g font-family="Liberation Sans, Arial, Helvetica, sans-serif" font-size="16" font-weight="bold" fill="#000" text-anchor="middle"><text x="415" y="42">Northern Hemisphere</text><text x="415" y="61.7" letter-spacing="-0.07">RADIOSONDE_U_WIND_COMPONENT @ 250 hPa</text></g><text font-family="Liberation Sans, Arial, Helvetica, sans-serif" font-size="16" fill="#262626" text-anchor="middle" transform="translate(62,234.4) rotate(-90)">rmse and totalspread</text><text font-family="Liberation Sans, Arial, Helvetica, sans-serif" font-size="16.25" fill="#d70a53" transform="translate(807,360.4) rotate(-90)"># of obs: o=possible; <tspan font-size="10">∗</tspan>=assimilated</text><text font-family="Liberation Sans, Arial, Helvetica, sans-serif" font-size="8.1" fill="#000" x="170" y="457.9">data file: /Users/gharamti/Documents/NCAR/Reanalysis/~/Documents/NCAR/Reanalysis/webpub/obs_diag_output_2014-04.nc</text><path d="M550.5 92.4H580" stroke="#000" stroke-width="2.4"/><circle cx="565.5" cy="91.9" r="7" fill="#000"/><path d="M550.5 112.3H580" stroke="#008080" stroke-width="2.4"/><path d="M561.15 106.45H569.85L571.35 107.95V116.65L569.85 118.15H561.15L559.65 116.65V107.95Z" fill="#008080"/><g font-family="Liberation Sans, Arial, Helvetica, sans-serif" font-size="16" fill="#000"><text x="583.1" y="98">rmse pr=3.6859</text><text x="583.6" y="117.4">totalspread pr=3.889</text></g></svg>
</body></html>
